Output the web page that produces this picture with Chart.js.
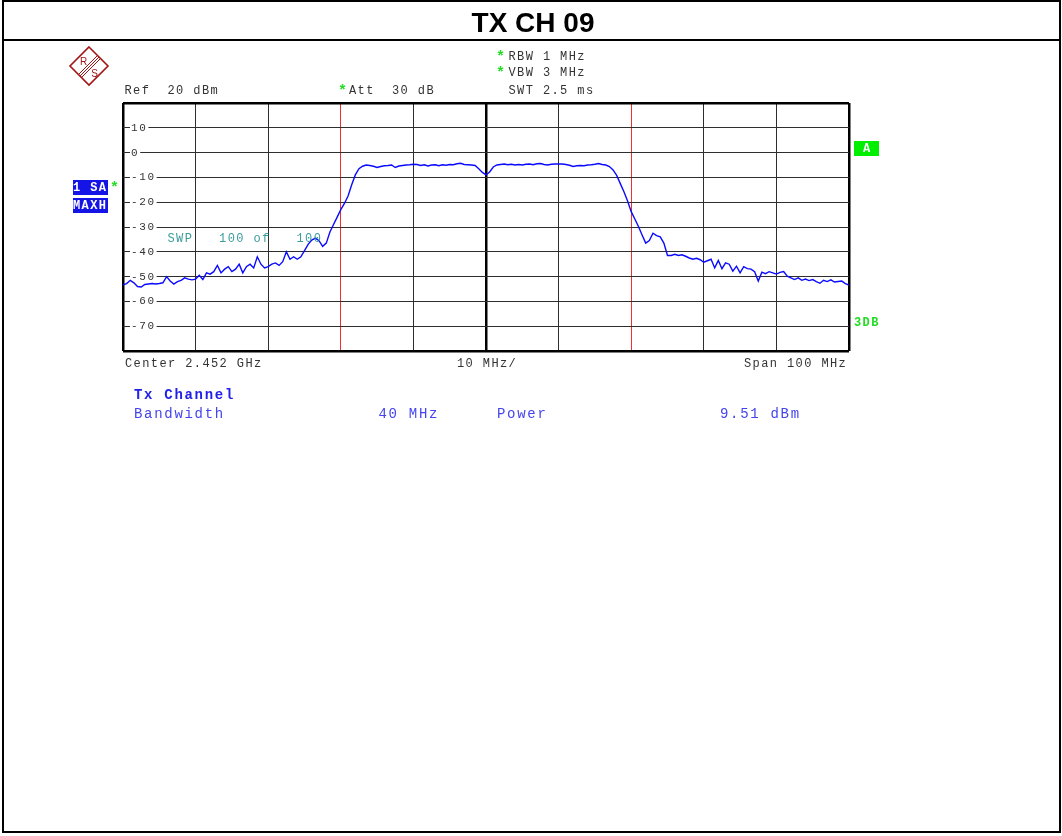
<!DOCTYPE html>
<html><head><meta charset="utf-8">
<script src="https://cdn.jsdelivr.net/npm/chart.js@4/dist/chart.umd.min.js"></script>
<style>
html,body{margin:0;padding:0;background:#fff;width:1062px;height:836px;overflow:hidden;}
#wrap{position:relative;width:1062px;height:836px;}
#c{position:absolute;left:0;top:0;}
.t{position:absolute;font-family:"Liberation Mono",monospace;font-size:12px;line-height:12px;letter-spacing:1.4px;color:#333;white-space:pre;}
.b{position:absolute;font-family:"Liberation Mono",monospace;font-size:14px;line-height:14px;letter-spacing:1.7px;color:#4444ee;white-space:pre;}
.star{position:absolute;font-family:"Liberation Mono",monospace;font-size:15px;line-height:15px;font-weight:bold;color:#22dd22;}
.box{position:absolute;background:#1414e6;}
</style>
</head><body>
<div id="wrap">
<canvas id="c" width="1062" height="836"></canvas>
<div style="position:absolute;left:2px;top:0;width:1059px;height:833px;border:2px solid #000;box-sizing:border-box;"></div>
<div style="position:absolute;left:2px;top:39px;width:1059px;height:2px;background:#000;"></div>
<div style="position:absolute;left:0;top:7px;width:1066px;text-align:center;font-family:'Liberation Sans',Arial,sans-serif;font-weight:bold;font-size:28px;line-height:32px;color:#000;">TX CH 09</div>

<svg style="position:absolute;left:68px;top:45px;" width="42" height="42" viewBox="0 0 42 42">
  <polygon points="21,2 40,21 21,40 2,21" fill="none" stroke="#a31515" stroke-width="1.6"/>
  <line x1="12" y1="31" x2="31" y2="12" stroke="#a31515" stroke-width="1"/>
  <line x1="13.5" y1="32.5" x2="32.5" y2="13.5" stroke="#a31515" stroke-width="1"/>
  <line x1="10.5" y1="29.5" x2="29.5" y2="10.5" stroke="#a31515" stroke-width="1"/>
  <text x="15.5" y="20" font-family="Liberation Sans,Arial" font-size="10" fill="#a31515" text-anchor="middle">R</text>
  <text x="26.5" y="32" font-family="Liberation Sans,Arial" font-size="10" fill="#a31515" text-anchor="middle">S</text>
</svg>

<div class="star" style="left:496px;top:50px;">*</div>
<div class="t" style="left:508.5px;top:50.5px;">RBW 1 MHz</div>
<div class="star" style="left:496px;top:66px;">*</div>
<div class="t" style="left:508.5px;top:66.5px;">VBW 3 MHz</div>
<div class="t" style="left:124.5px;top:84.5px;">Ref  20 dBm</div>
<div class="star" style="left:338px;top:84px;">*</div>
<div class="t" style="left:349px;top:84.5px;">Att  30 dB</div>
<div class="t" style="left:508.5px;top:84.5px;">SWT 2.5 ms</div>

<div class="box" style="left:73px;top:180px;width:35px;height:15px;"><div class="t" style="left:0;top:2px;color:#fff;font-weight:bold;">1 SA</div></div>
<div class="box" style="left:73px;top:198px;width:35px;height:15px;"><div class="t" style="left:0;top:2px;color:#fff;font-weight:bold;">MAXH</div></div>
<div class="star" style="left:110px;top:181px;">*</div>

<div class="box" style="left:854px;top:141px;width:25px;height:15px;background:#00ee00;"><div class="t" style="left:9px;top:2px;color:#fff;font-weight:bold;">A</div></div>
<div class="t" style="left:854px;top:317px;color:#22dd22;font-weight:bold;">3DB</div>

<div class="t" style="left:167.5px;top:233px;color:#3a9c9c;">SWP   100 of   100</div>

<div class="t" style="left:125px;top:358px;">Center 2.452 GHz</div>
<div class="t" style="left:457px;top:358px;">10 MHz/</div>
<div class="t" style="left:744px;top:358px;">Span 100 MHz</div>

<div class="b" style="left:134px;top:388px;font-weight:bold;color:#2020e8;">Tx Channel</div>
<div class="b" style="left:134px;top:407px;">Bandwidth</div>
<div class="b" style="left:378.5px;top:407px;">40 MHz</div>
<div class="b" style="left:497px;top:407px;">Power</div>
<div class="b" style="left:720px;top:407px;">9.51 dBm</div>
</div>

<script>
// Sweep frequencies (MHz offset from centre 2.452 GHz)
const freqMHz = [
-50,-49.5,-49,-48.5,-48,-47.5,-47,-46.5,-46,-45.5,-45,-44.5,-44,-43.5,-43,-42.5,-42,-41.5,-41,-40.5,
-40,-39.5,-39,-38.5,-38,-37.5,-37,-36.5,-36,-35.5,-35,-34.5,-34,-33.5,-33,-32.5,-32,-31.5,-31,-30.5,
-30,-29.5,-29,-28.5,-28,-27.5,-27,-26.5,-26,-25.5,-25,-24.5,-24,-23.5,-23,-22.5,-22,-21.5,-21,-20.5,
-20,-19.5,-19,-18.5,-18,-17.5,-17,-16.5,-16,-15.5,-15,-14.5,-14,-13.5,-13,-12.5,-12,-11.5,-11,-10.5,
-10,-9.5,-9,-8.5,-8,-7.5,-7,-6.5,-6,-5.5,-5,-4.5,-4,-3.5,-3,-2.5,-2,-1.5,-1,-0.5,
0,0.5,1,1.5,2,2.5,3,3.5,4,4.5,5,5.5,6,6.5,7,7.5,8,8.5,9,9.5,
10,10.5,11,11.5,12,12.5,13,13.5,14,14.5,15,15.5,16,16.5,17,17.5,18,18.5,19,19.5,
20,20.5,21,21.5,22,22.5,23,23.5,24,24.5,25,25.5,26,26.5,27,27.5,28,28.5,29,29.5,
30,30.5,31,31.5,32,32.5,33,33.5,34,34.5,35,35.5,36,36.5,37,37.5,38,38.5,39,39.5,
40,40.5,41,41.5,42,42.5,43,43.5,44,44.5,45,45.5,46,46.5,47,47.5,48,48.5,49,49.5,50
];
// Max-hold trace level (dBm)
const levelDBm = [
-53.3,-52.8,-51.5,-52.5,-54.0,-54.2,-53.2,-53.0,-52.8,-53.0,-52.8,-52.5,-50.0,-51.8,-53.0,-52.0,-51.5,-50.5,-51.0,-51.3,
-51.0,-49.5,-51.2,-48.5,-49.0,-48.0,-45.5,-48.5,-47.0,-46.0,-48.0,-47.0,-45.0,-48.5,-46.0,-45.0,-46.5,-42.0,-45.0,-46.5,
-46.0,-45.0,-44.5,-45.5,-44.0,-40.0,-43.0,-42.0,-43.0,-42.0,-39.5,-37.0,-35.3,-34.5,-35.5,-37.8,-36.5,-32.0,-29.0,-26.0,
-23.0,-20.5,-17.5,-13.0,-9.0,-6.5,-5.5,-5.0,-5.2,-5.5,-6.0,-5.6,-5.3,-5.2,-5.0,-6.0,-5.4,-5.2,-5.0,-4.9,
-4.7,-4.8,-5.2,-4.9,-5.4,-5.0,-4.9,-5.3,-4.9,-5.1,-4.8,-4.9,-4.5,-4.3,-4.8,-4.9,-5.0,-5.2,-6.5,-8.0,
-9.0,-7.8,-5.8,-5.0,-4.8,-4.6,-4.9,-4.7,-5.0,-4.8,-5.0,-4.7,-4.6,-4.9,-4.5,-4.4,-4.8,-5.0,-4.7,-4.6,
-4.6,-4.6,-4.8,-5.1,-5.6,-5.3,-5.2,-5.3,-5.0,-4.9,-4.7,-4.4,-4.8,-5.0,-5.6,-7.0,-9.2,-12.5,-15.8,-19.5,
-23.8,-26.8,-29.8,-33.2,-36.5,-35.5,-32.5,-33.5,-34.0,-36.5,-41.5,-41.5,-41.0,-41.5,-41.2,-41.8,-42.5,-43.0,-42.6,-43.2,
-44.2,-43.6,-43.0,-46.5,-43.5,-46.8,-44.5,-45.0,-47.8,-45.8,-48.5,-46.0,-46.8,-47.0,-48.0,-51.8,-48.2,-48.8,-48.0,-48.5,
-49.0,-48.3,-48.0,-49.8,-50.5,-51.2,-50.5,-51.5,-51.0,-51.6,-51.2,-52.0,-52.7,-51.5,-52.0,-51.3,-52.2,-52.0,-51.8,-52.8,-53.4
];
// Axis settings
const refLevel = 20;      // dBm, top of screen
const bottomLevel = -80;  // dBm
const dbPerDiv = 10;
const spanMin = -50, spanMax = 50, mhzPerDiv = 10;
const channelEdges = [-20, 20]; // 40 MHz channel bandwidth lines

const points = freqMHz.map((f, i) => ({x: f, y: levelDBm[i]}));
const near = (a, b) => Math.abs(a - b) < 1e-6;
const tickVal = c => (c && c.tick && typeof c.tick.value === 'number') ? c.tick.value : NaN;

const spacingPlugin = {
  id: 'spacing',
  beforeUpdate(chart){ chart.ctx.letterSpacing = '1.6px'; },
  beforeLayout(chart){ chart.ctx.letterSpacing = '1.6px'; },
  beforeDraw(chart){ chart.ctx.letterSpacing = '1.6px'; },
  beforeDatasetsDraw(chart){
    // white gap behind the y level labels, as on the analyser screen
    const y = chart.scales.y, ctx = chart.ctx;
    ctx.save();
    ctx.font = '11px "Liberation Mono"';
    ctx.letterSpacing = '1.6px';
    ctx.fillStyle = '#ffffff';
    y.ticks.forEach(t => {
      const lbl = (near(t.value, refLevel) || near(t.value, bottomLevel)) ? '' : String(t.value);
      if (!lbl) return;
      const w = ctx.measureText(lbl).width;
      const py = y.getPixelForValue(t.value);
      ctx.fillRect(chart.chartArea.left + 7, py - 6, w + 2, 12);
    });
    ctx.restore();
  }
};

new Chart(document.getElementById('c'), {
  type: 'line',
  data: { datasets: [{
    data: points,
    borderColor: '#0a0aff',
    borderWidth: 1.4,
    pointRadius: 0,
    tension: 0,
    fill: false
  }]},
  options: {
    responsive: false,
    devicePixelRatio: 1,
    animation: false,
    events: [],
    layout: { padding: { left: 123, top: 103, right: 213, bottom: 485 } },
    plugins: { legend: { display: false }, tooltip: { enabled: false } },
    scales: {
      x: {
        type: 'linear', min: spanMin, max: spanMax,
        afterFit(s){ s.height = 0; },
        ticks: { stepSize: mhzPerDiv, display: false },
        border: { display: false },
        grid: {
          drawTicks: false,
          color: c => {
            const v = tickVal(c);
            if (channelEdges.some(e => near(v, e))) return '#f03030';
            if (near(v, 0) || near(v, spanMin) || near(v, spanMax)) return '#000';
            return '#2e2e2e';
          },
          lineWidth: c => {
            const v = tickVal(c);
            if (near(v, 0) || near(v, spanMin) || near(v, spanMax)) return 2.5;
            return 1;
          }
        }
      },
      y: {
        type: 'linear', min: bottomLevel, max: refLevel,
        afterFit(s){ s.width = 0; },
        border: { display: false },
        ticks: {
          stepSize: dbPerDiv,
          mirror: true,
          padding: 8,
          z: 1,
          color: '#333',
          font: { family: 'Liberation Mono', size: 11 },
          callback: v => (near(v, refLevel) || near(v, bottomLevel)) ? '' : String(v)
        },
        grid: {
          drawTicks: false,
          color: c => {
            const v = tickVal(c);
            return (near(v, refLevel) || near(v, bottomLevel)) ? '#000' : '#2e2e2e';
          },
          lineWidth: c => {
            const v = tickVal(c);
            return (near(v, refLevel) || near(v, bottomLevel)) ? 2.5 : 1;
          }
        }
      }
    }
  },
  plugins: [spacingPlugin]
});
</script>
</body></html>
